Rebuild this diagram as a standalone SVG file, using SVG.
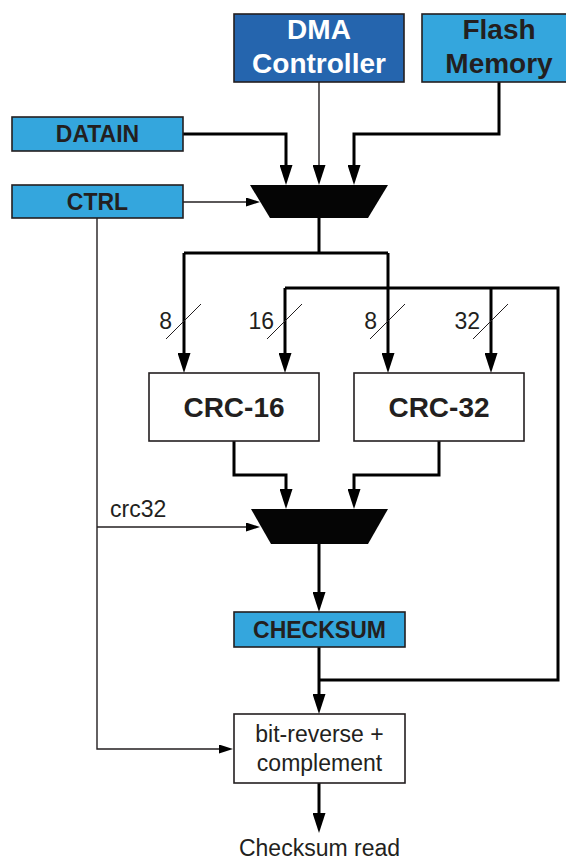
<svg xmlns="http://www.w3.org/2000/svg" width="566" height="862" viewBox="0 0 566 862">
<defs>
<style>
.box{stroke:#231f20;stroke-width:1.6}
.dark{fill:#2565ae}
.light{fill:#34a6dd}
.white{fill:#ffffff}
.mux{fill:#050505}
.lbl{font-family:"Liberation Sans",Arial,sans-serif;font-weight:bold;text-anchor:middle;fill:#231f20}
.big{font-size:28px}
.sm{font-size:23px}
.reg{font-family:"Liberation Sans",Arial,sans-serif;font-size:23px;fill:#231f20}
.thick{fill:none;stroke:#000;stroke-width:3}
.thin{fill:none;stroke:#231f20;stroke-width:1.4}
.slash{fill:none;stroke:#231f20;stroke-width:1}
</style>
<marker id="ah" markerUnits="userSpaceOnUse" viewBox="0 0 20 13" markerWidth="20" markerHeight="13" refX="10" refY="6.5" orient="auto"><path d="M0,0 L20,6.5 L0,13 z" fill="#000"/></marker>
<marker id="as" markerUnits="userSpaceOnUse" viewBox="0 0 14 9" markerWidth="14" markerHeight="9" refX="7" refY="4.5" orient="auto"><path d="M0,0 L14,4.5 L0,9 z" fill="#000"/></marker>
</defs>
<rect width="566" height="862" fill="#ffffff"/>

<g id="connectors">
<path class="thick" d="M183,134 H286 V175" marker-end="url(#ah)"/>
<path class="thick" d="M499,82 V134 H354 V175" marker-end="url(#ah)"/>
<path class="thin" d="M319,82 V175" marker-end="url(#ah)"/>
<path class="thin" d="M183,202 H253" marker-end="url(#as)"/>
<path class="thick" d="M319,218 V253"/>
<path class="thick" d="M184,253 H388"/>
<path class="thick" d="M184,253 V363" marker-end="url(#ah)"/>
<path class="thick" d="M388,253 V363" marker-end="url(#ah)"/>
<path class="thick" d="M319,680 H558 V288 H285"/>
<path class="thick" d="M285,288 V363" marker-end="url(#ah)"/>
<path class="thick" d="M491,288 V363" marker-end="url(#ah)"/>
<path class="slash" d="M166,339 L201,304 M267,339 L302,304 M370,339 L405,304 M473,339 L508,304"/>
<path class="thick" d="M234,441 V475 H286 V499" marker-end="url(#ah)"/>
<path class="thick" d="M439,441 V475 H354 V499" marker-end="url(#ah)"/>
<path class="thin" d="M97,218 V749 H226" marker-end="url(#as)"/>
<path class="thin" d="M97,527 H253" marker-end="url(#as)"/>
<path class="thick" d="M319,544 V602" marker-end="url(#ah)"/>
<path class="thick" d="M319,647 V704" marker-end="url(#ah)"/>
<path class="thick" d="M319,783 V823" marker-end="url(#ah)"/>
<text class="reg" x="172" y="329" text-anchor="end">8</text>
<text class="reg" x="274" y="329" text-anchor="end">16</text>
<text class="reg" x="377" y="329" text-anchor="end">8</text>
<text class="reg" x="480" y="329" text-anchor="end">32</text>
<text class="reg" x="110" y="517">crc32</text>
</g>

<g id="dma">
<rect class="box dark" x="234" y="14" width="170" height="68"/>
<text class="lbl big" x="319" y="39" style="fill:#ffffff">DMA</text>
<text class="lbl big" x="319" y="73" style="fill:#ffffff">Controller</text>
</g>
<g id="flash">
<rect class="box light" x="422" y="14" width="154" height="68"/>
<text class="lbl big" x="499" y="39">Flash</text>
<text class="lbl big" x="499" y="73">Memory</text>
</g>
<g id="datain">
<rect class="box light" x="12" y="117" width="171" height="34"/>
<text class="lbl sm" x="97.5" y="142">DATAIN</text>
</g>
<g id="ctrl">
<rect class="box light" x="12" y="185" width="171" height="33"/>
<text class="lbl sm" x="97.5" y="209.5">CTRL</text>
</g>
<g id="mux1">
<polygon class="mux" points="250,185 388,185 368,218 270,218"/>
</g>
<g id="crc16">
<rect class="box white" x="149" y="373" width="170" height="68"/>
<text class="lbl big" x="234" y="417">CRC-16</text>
</g>
<g id="crc32">
<rect class="box white" x="354" y="373" width="170" height="68"/>
<text class="lbl big" x="439" y="417">CRC-32</text>
</g>
<g id="mux2">
<polygon class="mux" points="251,509 388,509 368,544 271,544"/>
</g>
<g id="checksum">
<rect class="box light" x="234" y="612" width="171" height="35"/>
<text class="lbl sm" x="319.5" y="638">CHECKSUM</text>
</g>
<g id="bitrev">
<rect class="box white" x="234" y="714" width="171" height="69"/>
<text class="reg" x="319.5" y="742" text-anchor="middle">bit-reverse +</text>
<text class="reg" x="319.5" y="771" text-anchor="middle">complement</text>
</g>
<g id="out">
<text class="reg" x="319.5" y="856" text-anchor="middle">Checksum read</text>
</g>
</svg>
